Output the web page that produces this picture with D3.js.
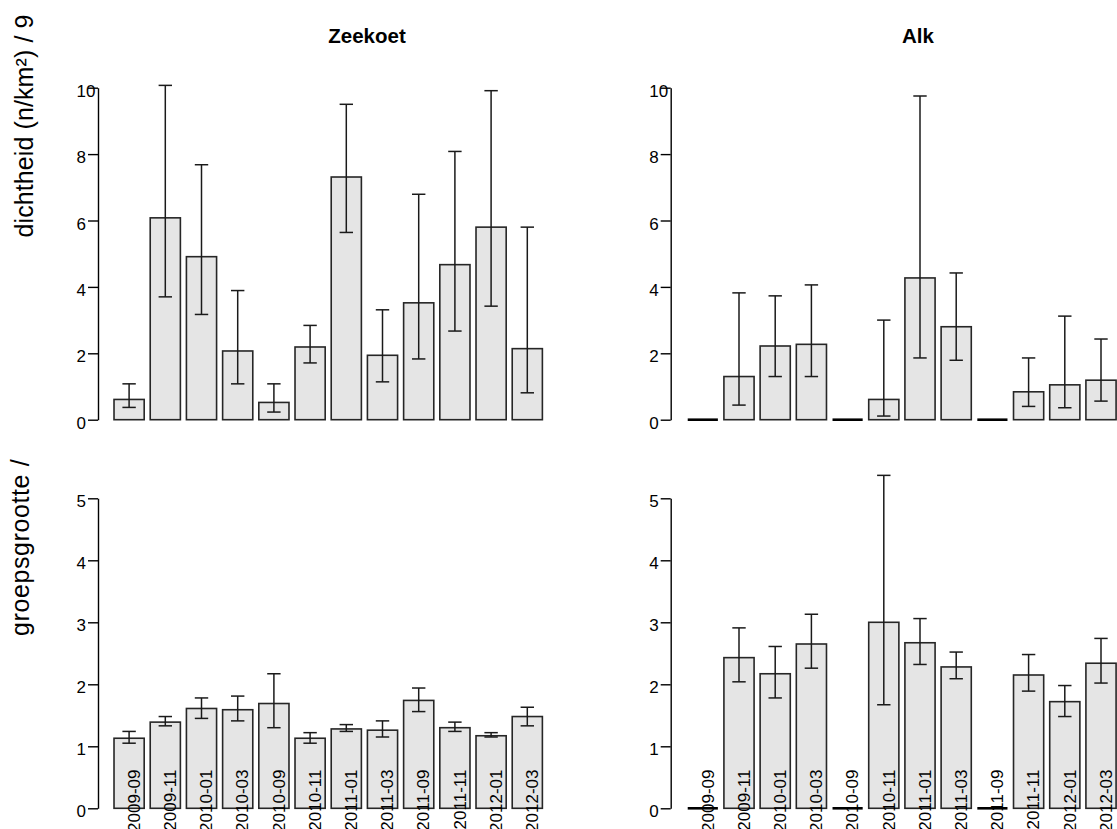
<!DOCTYPE html>
<html>
<head>
<meta charset="utf-8">
<script src="https://cdn.jsdelivr.net/npm/d3@7"></script>
<style>
  html, body { margin: 0; padding: 0; background: #fff; }
  svg { display: block; }
  text { font-family: "Liberation Sans", Arial, Helvetica, sans-serif; fill: #000; }
</style>
</head>
<body>
<svg id="chart" width="1117" height="829"></svg>
<script>
// ---- data ----
const categories = ["2009-09","2009-11","2010-01","2010-03","2010-09","2010-11",
                    "2011-01","2011-03","2011-09","2011-11","2012-01","2012-03"];

const densityTicks = [0, 2, 4, 6, 8, 10];
const groupTicks = [0, 1, 2, 3, 4, 5];

const zeekoetDensity   = [0.61, 6.08, 4.91, 2.07, 0.52, 2.19, 7.31, 1.94, 3.52, 4.67, 5.80, 2.14];
const zeekoetDensityLo = [0.37, 3.70, 3.17, 1.08, 0.23, 1.71, 5.64, 1.14, 1.83, 2.67, 3.42, 0.81];
const zeekoetDensityHi = [1.08, 10.07, 7.68, 3.89, 1.08, 2.84, 9.50, 3.31, 6.79, 8.08, 9.91, 5.80];

const alkDensity   = [0, 1.30, 2.22, 2.27, 0, 0.61, 4.27, 2.80, 0, 0.84, 1.05, 1.19];
const alkDensityLo = [null, 0.44, 1.30, 1.30, null, 0.11, 1.86, 1.79, null, 0.40, 0.36, 0.56];
const alkDensityHi = [null, 3.82, 3.73, 4.06, null, 3.00, 9.75, 4.42, null, 1.86, 3.12, 2.43];

const zeekoetGroup   = [1.13, 1.39, 1.61, 1.59, 1.69, 1.13, 1.28, 1.26, 1.74, 1.30, 1.17, 1.48];
const zeekoetGroupLo = [1.05, 1.33, 1.45, 1.41, 1.30, 1.05, 1.24, 1.15, 1.56, 1.24, 1.15, 1.33];
const zeekoetGroupHi = [1.24, 1.48, 1.78, 1.81, 2.17, 1.22, 1.35, 1.41, 1.94, 1.39, 1.22, 1.63];

const alkGroup   = [0, 2.43, 2.17, 2.65, 0, 3.00, 2.67, 2.28, 0, 2.15, 1.72, 2.34];
const alkGroupLo = [null, 2.04, 1.78, 2.26, null, 1.67, 2.32, 2.09, null, 1.89, 1.48, 2.02];
const alkGroupHi = [null, 2.91, 2.61, 3.13, null, 5.37, 3.06, 2.52, null, 2.48, 1.98, 2.74];

const speciesTitles = ["Zeekoet", "Alk"];
const rowTitles = ["dichtheid (n/km\u00B2) / 9", "groepsgrootte /"];

// ---- layout ----
const svg = d3.select("#chart");
const columns = [
  { axisX: 98,    xRange: [111, 545.4],   titleX: 367 },
  { axisX: 670.7, xRange: [684.7, 1119.1], titleX: 918 }
];
const rows = [
  { yRange: [419.7, 87.7], domain: [0, 10], ticks: densityTicks, titleY: 126, titleX: 33, spacing: 0.1 },
  { yRange: [808.3, 498.3], domain: [0, 5], ticks: groupTicks, titleY: 547.4, titleX: 29, spacing: 0.6 }
];

const panels = [
  { col: 0, row: 0, v: zeekoetDensity, lo: zeekoetDensityLo, hi: zeekoetDensityHi },
  { col: 1, row: 0, v: alkDensity, lo: alkDensityLo, hi: alkDensityHi },
  { col: 0, row: 1, v: zeekoetGroup, lo: zeekoetGroupLo, hi: zeekoetGroupHi, labels: true },
  { col: 1, row: 1, v: alkGroup, lo: alkGroupLo, hi: alkGroupHi, labels: true }
];

// titles
columns.forEach((c, i) => {
  svg.append("text")
    .attr("x", c.titleX).attr("y", 43)
    .attr("text-anchor", "middle")
    .style("font-weight", "bold").style("font-size", "20.5px")
    .text(speciesTitles[i]);
});

rows.forEach((r, i) => {
  svg.append("text")
    .attr("transform", `translate(${r.titleX},${r.titleY}) rotate(-90)`)
    .attr("text-anchor", "middle")
    .style("font-size", "25px")
    .style("letter-spacing", r.spacing + "px")
    .text(rowTitles[i]);
});

panels.forEach(p => {
  const c = columns[p.col], r = rows[p.row];
  const x = d3.scaleBand().domain(categories).range(c.xRange)
    .paddingInner(1/6).paddingOuter(1/12);
  const y = d3.scaleLinear().domain(r.domain).range(r.yRange);
  const g = svg.append("g");

  const data = categories.map((k, i) => ({ k, v: p.v[i], lo: p.lo[i], hi: p.hi[i] }));

  // bars
  g.selectAll("rect.bar").data(data.filter(d => d.v > 0)).join("rect")
    .attr("class", "bar")
    .attr("x", d => x(d.k)).attr("width", x.bandwidth())
    .attr("y", d => y(d.v)).attr("height", d => y(0) - y(d.v))
    .attr("fill", "#e5e5e5").attr("stroke", "#262626").attr("stroke-width", 1.6);

  // zero-height bars drawn as a line
  g.selectAll("line.zero").data(data.filter(d => d.v === 0)).join("line")
    .attr("class", "zero")
    .attr("x1", d => x(d.k)).attr("x2", d => x(d.k) + x.bandwidth())
    .attr("y1", y(0)).attr("y2", y(0))
    .attr("stroke", "#000").attr("stroke-width", 2.6);

  // error bars
  const eb = data.filter(d => d.lo != null && d.hi != null);
  const cap = 6.7;
  const eg = g.selectAll("g.err").data(eb).join("g").attr("class", "err")
    .attr("stroke", "#1a1a1a").attr("stroke-width", 1.5);
  eg.append("line")
    .attr("x1", d => x(d.k) + x.bandwidth() / 2).attr("x2", d => x(d.k) + x.bandwidth() / 2)
    .attr("y1", d => y(d.lo)).attr("y2", d => y(d.hi));
  eg.append("line")
    .attr("x1", d => x(d.k) + x.bandwidth() / 2 - cap).attr("x2", d => x(d.k) + x.bandwidth() / 2 + cap)
    .attr("y1", d => y(d.hi)).attr("y2", d => y(d.hi));
  eg.append("line")
    .attr("x1", d => x(d.k) + x.bandwidth() / 2 - cap).attr("x2", d => x(d.k) + x.bandwidth() / 2 + cap)
    .attr("y1", d => y(d.lo)).attr("y2", d => y(d.lo));

  // y axis
  const ax = g.append("g").attr("transform", `translate(${c.axisX},0)`)
    .call(d3.axisLeft(y).tickValues(r.ticks).tickSize(10).tickSizeOuter(0).tickFormat(d3.format("d")));
  ax.select(".domain").attr("stroke", "#000").attr("stroke-width", 1.4);
  ax.selectAll(".tick line").attr("stroke", "#000").attr("stroke-width", 1.4);
  ax.selectAll(".tick text")
    .attr("x", -21.5).attr("dy", "0.51em")
    .attr("text-anchor", "start")
    .style("font-size", "17px")
    .attr("font-family", null).attr("fill", "#000");

  // category labels
  if (p.labels) {
    g.selectAll("text.cat").data(data).join("text")
      .attr("class", "cat")
      .attr("transform", d => `translate(${x(d.k) + x.bandwidth() / 2 + 10.7},769.5) rotate(-90)`)
      .attr("text-anchor", "end")
      .style("font-size", "17px")
      .text(d => d.k);
  }
});
</script>
</body>
</html>
